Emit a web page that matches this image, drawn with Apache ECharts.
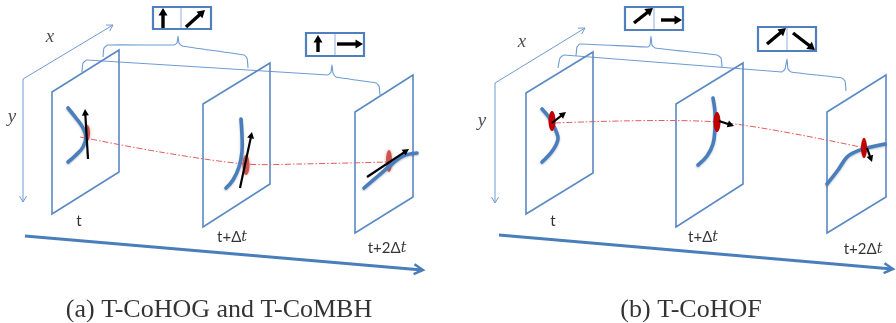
<!DOCTYPE html>
<html><head><meta charset="utf-8">
<script src="https://cdn.jsdelivr.net/npm/echarts@6/dist/echarts.min.js"></script>
<style>html,body{margin:0;padding:0;background:#fff}#c{width:896px;height:323px}</style>
</head><body><div id="c"></div>
<script>
// ---- diagram data (pixel-space data coordinates, y downward) ----
const frameQuads = [
  [[52,92],[119,50],[119,172],[52,214]],
  [[203,104],[270,63],[270,184],[203,227]],
  [[355,112],[413,75],[413,197],[355,233]],
  [[526,93],[593,52],[593,173],[526,214]],
  [[676,104],[743,63],[743,184],[676,227]],
  [[827,112],[886,75],[886,197],[827,233]]
];
const axisArrowsXY = [
  [[23,79],[113,25]], [[23,79],[23,202]],
  [[495,83],[585,28]], [[495,83],[495,203]]
];
const timeAxes = [
  [[25,236],[423,270]],
  [[499,235],[893,269]]
];
const braces = [
  [[103,57],[104,48],[108,45],[174,45],[177,43],[178,36],[179,43],[182,46],[244,55],[247,58],[248,68]],
  [[82,72],[83,63],[87,60],[328,75],[331,72],[332,65],[333,73],[336,77],[376,83],[379,86],[380,95]],
  [[576,56],[577,47],[580,44],[648,47],[650,45],[651,36],[652,45],[655,48],[717,55],[721,58],[722,67]],
  [[558,68],[560,58],[564,55],[782,72],[785,69],[787,59],[788,69],[791,72],[842,78],[845,81],[846,91]]
];
const boxes = [
  [153,7,211,29,181],
  [306,33,364,56,335],
  [625,7,683,30,654],
  [758,27,816,51,787]
];
const boxArrows = [
  [[163,28],[163,8]], [[186,27],[205,10]],
  [[318,52],[318,35]], [[337,44],[363,44]],
  [[634,23],[653,8]], [[661,20],[682,20]],
  [[767,44],[786,28]], [[793,33],[815,50]]
];
const curves = [
  [[68,108],[76,118],[83,128],[86,137],[83,147],[76,155],[68,162]],
  [[241,119],[242,135],[242,152],[239,167],[233,180],[226,188]],
  [[364,188],[378,176],[392,164],[403,156],[417,153]],
  [[542,109],[548,116],[552,123],[556,131],[558,139],[553,150],[542,162]],
  [[713,98],[715,112],[715,128],[713,144],[707,156],[698,165]],
  [[827,184],[838,170],[847,157],[855,152],[863,149],[885,144]]
];
const motionArrows = [
  [[88,159],[85,109]],
  [[240,188],[252,132]],
  [[367,177],[409,149]],
  [[552,123],[566,112]],
  [[719,121],[734,126]],
  [[867,148],[872,162]]
];
const blobsA = [[87,133,3,8],[246,165,3.5,10],[389,161,3,11]];
const blobsB = [[552,121,3.5,10],[717,122,3.5,10],[864,148,3,10]];
const trajectories = [
  [[80,137],[160,152],[245,164],[300,164],[388,162]],
  [[555,123],[717,122],[865,148]]
];
const timeLabels = ['t','t+Δt','t+2Δt','t','t+Δt','t+2Δt'];
const timeLabelPos = [[79,221],[232,237],[387,248],[553,221],[703,237],[863,249]];
const axisLetters = ['x','y','x','y'];
const axisLetterPos = [[50,37],[12,117],[522,42],[482,121]];
const captions = ['(a) T-CoHOG and T-CoMBH','(b) T-CoHOF'];
const captionPos = [[219,310],[691,310]];

// ---- helpers ----
const BLUE = '#4a7ebb', THIN = '#6f9bd3';
function unit(p0,p1){const dx=p1[0]-p0[0],dy=p1[1]-p0[1],L=Math.hypot(dx,dy);return [dx/L,dy/L];}
function filledArrow(p0,p1,lw,hl,hw,color){
  const [ux,uy]=unit(p0,p1), nx=-uy, ny=ux;
  const bx=p1[0]-ux*hl, by=p1[1]-uy*hl;
  return [
    {type:'line',shape:{x1:p0[0],y1:p0[1],x2:bx+ux*1,y2:by+uy*1},style:{stroke:color,lineWidth:lw,lineCap:'butt'}},
    {type:'polygon',shape:{points:[[p1[0],p1[1]],[bx+nx*hw,by+ny*hw],[bx-nx*hw,by-ny*hw]]},style:{fill:color}}
  ];
}
function chevron(p0,p1,len,spread){
  const [ux,uy]=unit(p0,p1), nx=-uy, ny=ux;
  const bx=p1[0]-ux*len, by=p1[1]-uy*len;
  return [[bx+nx*spread,by+ny*spread],[p1[0],p1[1]],[bx-nx*spread,by-ny*spread]];
}
function idx(arr){return arr.map((_,i)=>[i,0]);}
function custom(arr, z, draw){
  return {type:'custom',coordinateSystem:'cartesian2d',clip:false,silent:true,z:z,
    data:idx(arr),renderItem:function(params,api){return draw(arr[api.value(0)],api);}};
}
function ellipsePts(c,r){
  const pts=[];for(let k=0;k<40;k++){const a=k/40*Math.PI*2;pts.push([c[0]+r[0]*Math.cos(a),c[1]+r[1]*Math.sin(a)]);}return pts;
}

const series = [
  custom(axisArrowsXY,1,(seg,api)=>{
    const a=api.coord(seg[0]), b=api.coord(seg[1]);
    return {type:'group',children:[
      {type:'line',shape:{x1:a[0],y1:a[1],x2:b[0],y2:b[1]},style:{stroke:THIN,lineWidth:1}},
      {type:'polyline',shape:{points:chevron(a,b,6,3.5)},style:{stroke:THIN,lineWidth:1,fill:null}}
    ]};
  }),
  custom(braces,1,(pts,api)=>({type:'polyline',shape:{points:pts.map(p=>api.coord(p)),smooth:0.15},
    style:{stroke:THIN,lineWidth:1.1,fill:null}})),
  custom(frameQuads,2,(pts,api)=>({type:'polygon',shape:{points:pts.map(p=>api.coord(p))},
    style:{stroke:'#5a89c4',lineWidth:1.6,fill:null,lineJoin:'miter'}})),
  custom(timeAxes,2,(seg,api)=>{
    const a=api.coord(seg[0]), b=api.coord(seg[1]);
    return {type:'group',children:[
      {type:'line',shape:{x1:a[0],y1:a[1],x2:b[0]-1,y2:b[1]},style:{stroke:BLUE,lineWidth:3}},
      {type:'polyline',shape:{points:chevron(a,b,9,5)},style:{stroke:BLUE,lineWidth:2.5,fill:null,lineJoin:'miter'}}
    ]};
  }),
  custom(trajectories,3,(pts,api)=>({type:'polyline',shape:{points:pts.map(p=>api.coord(p)),smooth:0.3},
    style:{stroke:'#e35d5d',lineWidth:1,fill:null,lineDash:[6,2,1.5,2]}})),
  custom(blobsA,4,(b,api)=>{
    const c=api.coord([b[0],b[1]]), r=api.size([b[2],b[3]]);
    return {type:'polygon',shape:{points:ellipsePts(c,r)},
      style:{fill:'rgba(196,72,68,0.85)',shadowBlur:3,shadowColor:'rgba(196,72,68,0.7)'}};
  }),
  custom(curves,5,(pts,api)=>({type:'polyline',shape:{points:pts.map(p=>api.coord(p)),smooth:0.4},
    style:{stroke:BLUE,lineWidth:3.6,fill:null,lineCap:'round',lineJoin:'round',
      shadowBlur:2,shadowColor:'rgba(40,70,120,0.35)',shadowOffsetY:1}})),
  custom(blobsB,6,(b,api)=>{
    const c=api.coord([b[0],b[1]]), r=api.size([b[2],b[3]]);
    return {type:'polygon',shape:{points:ellipsePts(c,r)},style:{fill:'#c00000'}};
  }),
  custom(motionArrows,7,(seg,api)=>{
    const a=api.coord(seg[0]), b=api.coord(seg[1]);
    return {type:'group',children:filledArrow(a,b,2.2,6.5,3.5,'#000')};
  }),
  custom(boxes,8,(bx,api)=>{
    const p=api.coord([bx[0],bx[1]]), q=api.coord([bx[2],bx[3]]), d=api.coord([bx[4],bx[1]]);
    return {type:'group',children:[
      {type:'rect',shape:{x:p[0],y:p[1],width:q[0]-p[0],height:q[1]-p[1]},style:{fill:'#fff',stroke:'#4f7fbd',lineWidth:2.2}},
      {type:'line',shape:{x1:d[0],y1:p[1]+1,x2:d[0],y2:q[1]-1},style:{stroke:'#8fb0dc',lineWidth:1}}
    ]};
  }),
  custom(boxArrows,9,(seg,api)=>{
    const a=api.coord(seg[0]), b=api.coord(seg[1]);
    return {type:'group',children:filledArrow(a,b,3.4,7.5,4.5,'#000')};
  }),
  {type:'scatter',symbolSize:0,silent:true,z:10,
    data:timeLabelPos.map((p,i)=>({value:p,name:timeLabels[i]})),
    label:{show:true,position:'inside',
      formatter:(p)=>{const s=p.name;const k=s.indexOf('Δ');return k<0?'{s|'+s+'}':'{s|'+s.slice(0,k+1)+'}{i|'+s.slice(k+1)+'}';},
      rich:{s:{fontFamily:'Lato',fontSize:15,color:'#000'},i:{fontFamily:'DejaVu Serif',fontStyle:'italic',fontSize:14,color:'#000'}}}},
  {type:'scatter',symbolSize:0,silent:true,z:10,
    data:axisLetterPos.map((p,i)=>({value:p,name:axisLetters[i]})),
    label:{show:true,position:'inside',formatter:'{b}',fontFamily:'Liberation Serif',fontStyle:'italic',fontSize:19,color:'#222'}},
  {type:'scatter',symbolSize:0,silent:true,z:10,
    data:captionPos.map((p,i)=>({value:p,name:captions[i]})),
    label:{show:true,position:'inside',formatter:'{b}',fontFamily:'Liberation Serif',fontSize:26,color:'#000'}}
];

const chart = echarts.init(document.getElementById('c'),null,{renderer:'canvas'});
chart.setOption({
  animation:false,
  backgroundColor:'#fff',
  grid:{left:0,right:0,top:0,bottom:0},
  xAxis:{type:'value',min:0,max:896,show:false},
  yAxis:{type:'value',min:0,max:323,inverse:true,show:false},
  series:series
});
</script></body></html>
